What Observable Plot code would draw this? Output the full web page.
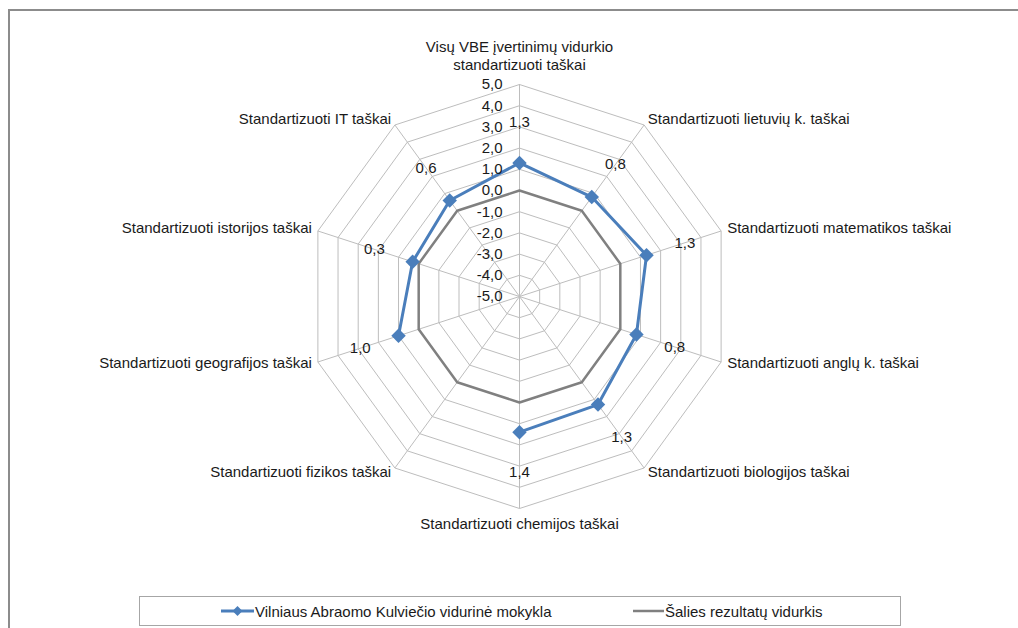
<!DOCTYPE html>
<html>
<head>
<meta charset="utf-8">
<script src="https://cdn.jsdelivr.net/npm/d3@7"></script>
<script src="https://cdn.jsdelivr.net/npm/@observablehq/plot@0.6"></script>
<style>
  html, body { margin: 0; padding: 0; background: #fff; }
  #wrap { position: relative; width: 1018px; height: 628px; overflow: hidden; font-family: "Liberation Sans", Arial, sans-serif; color: #1a1a1a; }
  #frame { position: absolute; left: 8px; top: 9px; width: 1030px; height: 640px; border: 2px solid #8c8c8c; box-sizing: border-box; pointer-events: none; }
  #chart { position: absolute; left: 0; top: 0; }
  #legend { position: absolute; left: 139px; top: 596px; width: 762px; height: 30px; border: 1px solid #a6a6a6; box-sizing: border-box; background: #fff; font-size: 15px; }
  .item { position: absolute; top: 0; height: 28px; display: flex; align-items: center; white-space: nowrap; }
  .item svg { display: block; margin-right: 1px; }
</style>
</head>
<body>
<div id="wrap">
  <div id="chart"></div>
  <div id="frame"></div>
  <div id="legend"></div>
</div>
<script>
// ---- data ----
const categories = [
  "Visų VBE įvertinimų vidurkio\nstandartizuoti taškai",
  "Standartizuoti lietuvių k. taškai",
  "Standartizuoti matematikos taškai",
  "Standartizuoti anglų k. taškai",
  "Standartizuoti biologijos taškai",
  "Standartizuoti chemijos taškai",
  "Standartizuoti fizikos taškai",
  "Standartizuoti geografijos taškai",
  "Standartizuoti istorijos taškai",
  "Standartizuoti IT taškai"
];
const schoolValues = [1.3, 0.8, 1.3, 0.8, 1.3, 1.4, null, 1.0, 0.3, 0.6];
const nationalValues = [0, 0, 0, 0, 0, 0, 0, 0, 0, 0];
const axisTicks = [-5, -4, -3, -2, -1, 0, 1, 2, 3, 4, 5];
const axisTickLabels = ["-5,0", "-4,0", "-3,0", "-2,0", "-1,0", "0,0", "1,0", "2,0", "3,0", "4,0", "5,0"];
const seriesNames = ["Vilniaus Abraomo Kulviečio vidurinė mokykla", "Šalies rezultatų vidurkis"];
const seriesColors = ["#4a7ebb", "#808080"];

// ---- radar geometry (in value units) ----
const minV = axisTicks[0], maxV = axisTicks[axisTicks.length - 1];
const R = maxV - minV;
const n = categories.length;
const ang = i => 2 * Math.PI * i / n;
const polar = (i, r) => ({x: r * Math.sin(ang(i)), y: r * Math.cos(ang(i))});
const fmt = v => d3.format(".1f")(v).replace(".", ",");

const rings = [];
for (const t of axisTicks.slice(1)) {
  for (let k = 0; k <= n; k++) rings.push({ring: t, ...polar(k % n, t - minV)});
}
const spokes = categories.map((c, i) => ({i, ...polar(i, R)}));

function seriesLine(values) {
  const out = [];
  for (let k = 0; k <= n; k++) {
    const i = k % n, v = values[i];
    if (v == null) out.push({x: NaN, y: NaN});
    else out.push({v, ...polar(i, v - minV)});
  }
  return out;
}
const schoolPts = schoolValues.map((v, i) => ({i, v})).filter(d => d.v != null)
  .map(d => ({...d, ...polar(d.i, d.v - minV), lab: fmt(d.v), l: polar(d.i, d.v - minV + 1.9)}));

const catLabels = categories.map((c, i) => ({i, text: c, ...polar(i, R + 0.3)}));
const sinOf = d => Math.sin(ang(d.i));
const topLab = catLabels.filter(d => d.i === 0);
const bottomLab = catLabels.filter(d => Math.abs(sinOf(d)) < 0.1 && d.i !== 0);
const rightLab = catLabels.filter(d => sinOf(d) >= 0.1);
const leftLab = catLabels.filter(d => sinOf(d) <= -0.1);

const ticks = axisTicks.map((t, k) => ({r: t - minV, label: axisTickLabels[k]}));

const font = "Liberation Sans, Arial, sans-serif";
const txt = "#1a1a1a";
const fs = 15;

const chart = Plot.plot({
  width: 1018,
  height: 628,
  marginLeft: 307,
  marginRight: 287,
  marginTop: 84,
  marginBottom: 120,
  x: {domain: [-R, R], axis: null},
  y: {domain: [-R, R], axis: null},
  style: {fontFamily: font, fontSize: fs + "px", background: "transparent", overflow: "visible"},
  marks: [
    Plot.line(rings, {x: "x", y: "y", z: "ring", stroke: "#bdbdbd", strokeWidth: 1}),
    Plot.link(spokes, {x1: () => 0, y1: () => 0, x2: "x", y2: "y", stroke: "#bdbdbd", strokeWidth: 1}),
    Plot.line(seriesLine(nationalValues), {x: "x", y: "y", stroke: seriesColors[1], strokeWidth: 2.5}),
    Plot.line(seriesLine(schoolValues), {x: "x", y: "y", stroke: seriesColors[0], strokeWidth: 3}),
    Plot.dot(schoolPts, {x: "x", y: "y", symbol: "diamond2", r: 6.5, fill: seriesColors[0], stroke: null}),
    Plot.text(ticks, {x: () => 0, y: "r", text: "label", textAnchor: "end", dx: -17, fill: txt, fontSize: fs}),
    Plot.text(schoolPts, {x: d => d.l.x, y: d => d.l.y, text: "lab", fill: txt, fontSize: fs}),
    Plot.text(topLab, {x: "x", y: "y", text: "text", lineAnchor: "bottom", dy: -8, lineHeight: 1.2, fill: txt, fontSize: fs}),
    Plot.text(bottomLab, {x: "x", y: "y", text: "text", lineAnchor: "top", dy: 3, fill: txt, fontSize: fs}),
    Plot.text(rightLab, {x: "x", y: "y", text: "text", textAnchor: "start", dy: -1, fill: txt, fontSize: fs}),
    Plot.text(leftLab, {x: "x", y: "y", text: "text", textAnchor: "end", dy: -1, fill: txt, fontSize: fs})
  ]
});
document.getElementById("chart").appendChild(chart);

// ---- legend ----
const legend = document.getElementById("legend");
const legendLeft = [81, 493];
seriesNames.forEach((name, k) => {
  const item = document.createElement("div");
  item.className = "item";
  item.style.left = legendLeft[k] + "px";
  const w = k === 0 ? 33 : 31;
  const marker = k === 0
    ? `<rect x="${w/2 - 3.5}" y="3.5" width="7" height="7" transform="rotate(45 ${w/2} 7)" fill="${seriesColors[0]}"/>`
    : "";
  item.innerHTML = `<svg width="${w}" height="14"><line x1="0" x2="${w}" y1="7" y2="7" stroke="${seriesColors[k]}" stroke-width="${k === 0 ? 3 : 2.5}"/>${marker}</svg><span>${name}</span>`;
  legend.appendChild(item);
});
</script>
</body>
</html>
